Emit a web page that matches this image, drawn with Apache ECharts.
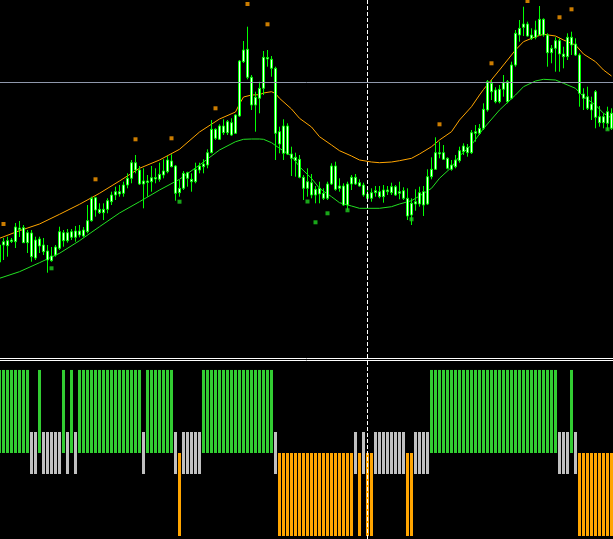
<!DOCTYPE html>
<html><head><meta charset="utf-8">
<script src="https://cdn.jsdelivr.net/npm/echarts@6/dist/echarts.min.js"></script>
<style>html,body{margin:0;padding:0;background:#000;}#c{width:613px;height:539px;}</style>
</head><body><div id="c"></div>
<script>
// Candles: price units (hidden scale), one per bar
const opens = [
93,113.3,109.3,113.5,128,125.5,127.3,112.3,122,97,
116,110,104,94.3,100,106.7,122.3,114.3,123.3,117.7,
124,119,123.3,134.3,157.3,145.7,142.3,145.7,153.3,160,
163.3,161.7,170,176.7,192.3,185,171,172.5,173.3,176,
175.7,180,183.3,194,189,162.3,166.7,182.3,175.7,173.3,
185,188.3,190,202.3,225.7,215.7,229,222.3,232.3,221.7,
239,293.3,305.7,277.7,250,256.7,266.7,296,295.7,286.7,
211,201.7,229,196.7,194.3,195.7,177.7,166.7,172.3,160,
161,156.7,156.7,171,189,166.7,169,150,171,177.7,
172.3,170,161,156.7,162.3,158.3,158.3,163.3,162.3,168.3,
161.7,164.3,156.7,140,151,151,163.3,151,178.3,185.7,
201,202.3,196.7,185.7,188.3,194.3,203.3,207.7,202.3,221.7,
221.7,226.7,245,271.7,253.3,265.7,265.7,253.3,256.7,290,
320,327.7,331,316.7,317.7,320,335.7,320,302.3,306.7,
314.3,298.3,298.3,317.7,311,300,256.7,258.3,245,237.7,
232.3,232.3,231.7,241.7];
const closes = [
110,110,114.3,115,113.3,127,112.3,122.3,98.3,115,
109,103.3,95,99,108,123.3,114.3,122.3,117.7,124,
120,125,134.3,156.7,145,142.3,145.7,154.3,160,163.3,
161,170,176.7,192.3,185,171,174,174,177.3,177.5,
180.7,184,195,188.3,161.7,166.7,181.7,176.7,173.3,185.7,
189,191,202.3,225.7,216.7,229,222.3,233.3,220,240,
294,305,277.7,250,257.7,266.7,297.7,297.5,286.7,221.7,
223.3,229,201,201,197.7,177.7,166.7,173.3,160,165.7,
166.7,161.7,171,189,165.7,169,150,171,177.7,171,
169,160,156.7,162.3,164.3,163.3,165,165,168.3,160,
163.3,156.7,139,151.7,153.3,162.3,150,178.3,185.7,202.3,
202.3,195.7,186.7,190,195,204.3,209,202.3,222.3,223.3,
226.7,245.7,273.3,263.3,265,253.3,272.3,273.3,290,321.7,
326.7,331,319,320,325,335.7,320,302.3,306.7,314.3,
301,301,317.7,310,300,261.7,261,246.7,251,263.3,
238.3,238.3,243.3,226.7];
const lows = [
83,95,98.3,112,107,118,112,102,93.3,95,
102,100,82.3,93.3,98.3,105,108.3,112.3,115,113.3,
117.7,117.7,121.7,133.3,138.3,141,135,141.7,150,155,
158.3,158.3,166.7,171.7,181.7,170,146.7,158.3,163.3,171.7,
173.3,176.7,181.7,187.7,154.3,158.3,165,168.3,163.3,171.7,
181.7,181.7,186.7,201.7,215,215,220,220,219,221,
238,292,275.7,245,223.3,241.7,260,288.3,278.3,195,
201.7,195,200,179,178.3,176.7,155,158.3,156.7,151.7,
151.7,155,155,170,164.3,163.3,149,145,165,170,
168.3,158.3,155.7,153.3,158.3,156.7,152.3,160,160,159,
155.7,155,135,130,144.3,148.3,139,150,175.7,185,
196.7,195,185.7,184.3,186.7,192.3,200,198.3,201,213.3,
220,225,243.3,255,251.7,251.7,258.3,251.7,255.7,288.3,
313.3,319,318.3,315,315.7,319,318.3,288.3,291.7,283.3,
283.3,286.7,295,300,299,248.3,245,245,235,226.7,
228.3,226.7,225,225];
const highs = [
118,117,118.3,117,132,134,130,125,125,118.3,
118.3,117,110,108,110,128.3,125,126,126,129,
130,128,150,158.3,158.3,151.7,151.7,156.7,163.3,168.3,
170,173.3,181.7,195,200,189,186.7,180,189,186.7,
192.3,195.7,199,200.7,190,175,184,183.3,181.7,192.3,
192.3,195.7,205.7,235,226.7,230.7,235.7,235,236.7,240.7,
295,314,328.3,280,263.3,273.3,304,305,299,288.3,
228.3,235.7,231.7,208.3,202.3,200,180,186.7,181,169,
173.3,166.7,173.3,191.7,193.3,176.7,171.7,173.3,180,181,
175.7,172.3,168.3,166.7,169,169,170,169,172.3,170,
173.3,167.7,166.7,156.7,165.7,168.3,169,185.7,197.7,217.7,
213.3,210,197.7,195,200,208.3,211.7,211,225,230,
231,251.7,275,275,267.7,270,280,275,293.3,325,
335,348.3,333.3,326.7,334.3,349,336.7,321.7,310,317.7,
316.7,308.3,321.7,323.3,316.7,301.7,266.7,268.3,258.3,265,
249,241.7,248.3,246.7];

// Envelope lines read at sampled bars: [bar, value]
const upperBand = [[0,116.7],[5,124.3],[10,131],[15,140.7],[20,150.7],[25,161.7],[30,174],[35,186.7],[40,195],[45,205.7],[50,223],[55,236],[59,243],[60,251],[61,258],[63,260],[65,260.3],[66,262],[68,263.3],[69,261.5],[70,256.7],[73,246],[75,236.7],[78,228],[80,218.3],[83,210],[85,204.3],[88,199],[90,195],[93,193],[95,192.3],[98,193],[100,194.3],[103,196.7],[105,201],[108,208.3],[110,215],[113,223.3],[115,235],[118,248.3],[120,260],[121,265.5],[125,285],[129,305],[131,313.3],[134,318.3],[136,320.7],[139,319],[141,315],[144,310],[146,301],[149,293.3],[151,285],[153,279]];
const lowerBand = [[0,76.7],[5,83.3],[10,92.3],[15,101.7],[20,114.3],[25,128.3],[30,142],[35,153.3],[40,165],[45,175.7],[50,190],[55,205],[59,213.3],[61,215.7],[63,216],[65,216],[66,215.7],[68,212.3],[70,206.7],[73,199],[75,188.3],[78,176.7],[80,166.7],[83,158.3],[85,152.3],[88,149],[90,146.7],[95,146.7],[98,148.3],[100,151],[103,154.3],[105,159],[108,166.7],[110,176.7],[113,187.7],[115,199],[118,210],[120,221],[121,226.5],[125,245],[129,260],[131,268.3],[134,274],[136,275.7],[139,275],[141,271.7],[144,266.7],[146,258.3],[149,250],[151,241.7],[153,237]];

// Fractal-like dots: [bar, value]
const upperDots = [[1,131],[24,175.7],[34,215.7],[43,216.7],[54,246.7],[62,351],[67,330.7],[110,230.7],[123,291.7],[132,354],[140,337.7],[143,345.7]];
const lowerDots = [[13,86.7],[45,153.3],[77,153.5],[79,132.7],[82,141.7],[87,144.7],[103,135.7],[152,225.7]];

// Histogram state per bar: 1 up, 0 neutral, -1 down
const trend = [
1,1,1,1,1,1,1,1,0,0,
1,0,0,0,0,0,1,0,1,0,
1,1,1,1,1,1,1,1,1,1,
1,1,1,1,1,1,0,1,1,1,
1,1,1,1,0,-1,0,0,0,0,
0,1,1,1,1,1,1,1,1,1,
1,1,1,1,1,1,1,1,1,0,
-1,-1,-1,-1,-1,-1,-1,-1,-1,-1,
-1,-1,-1,-1,-1,-1,-1,-1,-1,0,
-1,0,-1,-1,0,0,0,0,0,0,
0,0,-1,-1,0,0,0,0,1,1,
1,1,1,1,1,1,1,1,1,1,
1,1,1,1,1,1,1,1,1,1,
1,1,1,1,1,1,1,1,1,1,
0,0,0,1,0,-1,-1,-1,-1,-1,
-1,-1,-1,-1];
const neutralLevel = 0.253;
const bidPrice = 272.5;
const cursorBar = 92;
const firstBar = 0.125, lastBar = 153.375;  // visible bar window

const candles = opens.map((o, i) => [i, o, closes[i], lows[i], highs[i]]);
const barsFor = f => trend.map((t, i) => [i, f(t)]).filter(d => d[1] !== null);

const chart = echarts.init(document.getElementById('c'));
const xa = gi => ({type: 'value', gridIndex: gi, min: firstBar, max: lastBar, show: false, splitLine: {show: false}});
chart.setOption({
  backgroundColor: '#000', animation: false,
  grid: [{left: 0, width: 613, top: 0, height: 358}, {left: 0, width: 613, top: 360, height: 179}],
  xAxis: [xa(0), xa(1)],
  yAxis: [{type: 'value', gridIndex: 0, min: -3, max: 355, show: false, splitLine: {show: false}},
          {type: 'value', gridIndex: 1, min: -1.036, max: 1.12, show: false, splitLine: {show: false}}],
  graphic: [
    {type: 'line', shape: {x1: 0, y1: 358.5, x2: 613, y2: 358.5}, style: {stroke: '#fff', lineWidth: 1}, z: 10},
    {type: 'line', shape: {x1: 0, y1: 360.5, x2: 613, y2: 360.5}, style: {stroke: '#fff', lineWidth: 1}, z: 10}
  ],
  series: [
    {type: 'candlestick', xAxisIndex: 0, yAxisIndex: 0, data: candles, encode: {x: 0, y: [1, 2, 3, 4]}, barWidth: 2, z: 3,
      itemStyle: {color: '#f4fff4', color0: '#f4fff4', borderColor: '#00ff00', borderColor0: '#00ff00', borderWidth: 1},
      markLine: {silent: true, symbol: 'none', label: {show: false}, animation: false,
        data: [{yAxis: bidPrice, lineStyle: {color: '#8f98ab', width: 1, type: 'solid'}},
               {xAxis: cursorBar, lineStyle: {color: '#fff', width: 1, type: [4, 2]}}]}},
    {type: 'line', xAxisIndex: 0, yAxisIndex: 0, data: upperBand, symbol: 'none', lineStyle: {color: '#ffa500', width: 1}, z: 2},
    {type: 'line', xAxisIndex: 0, yAxisIndex: 0, data: lowerBand, symbol: 'none', lineStyle: {color: '#22e022', width: 1}, z: 2},
    {type: 'scatter', xAxisIndex: 0, yAxisIndex: 0, data: upperDots, symbol: 'rect', symbolSize: 4, itemStyle: {color: '#ff9c00'}, z: 4},
    {type: 'scatter', xAxisIndex: 0, yAxisIndex: 0, data: lowerDots, symbol: 'rect', symbolSize: 4, itemStyle: {color: '#1fd01f'}, z: 4},
    {type: 'bar', xAxisIndex: 1, yAxisIndex: 1, barWidth: 3, barGap: '-100%', data: barsFor(t => t === 1 ? 1 : null), itemStyle: {color: '#32cd32'},
     markLine: {silent: true, symbol: 'none', label: {show: false}, animation: false,
       data: [{xAxis: cursorBar, lineStyle: {color: '#fff', width: 1, type: [4, 2]}}]}},
    {type: 'bar', xAxisIndex: 1, yAxisIndex: 1, barWidth: 3, barGap: '-100%', data: barsFor(t => t === -1 ? -1 : null), itemStyle: {color: '#ffa500'}},
    {type: 'bar', xAxisIndex: 1, yAxisIndex: 1, barWidth: 3, barGap: '-100%', data: barsFor(t => t === 0 ? neutralLevel : null), itemStyle: {color: '#c0c0c0'}},
    {type: 'bar', xAxisIndex: 1, yAxisIndex: 1, barWidth: 3, barGap: '-100%', data: barsFor(t => t === 0 ? -neutralLevel : null), itemStyle: {color: '#c0c0c0'}}
  ]
});
</script>
</body></html>
